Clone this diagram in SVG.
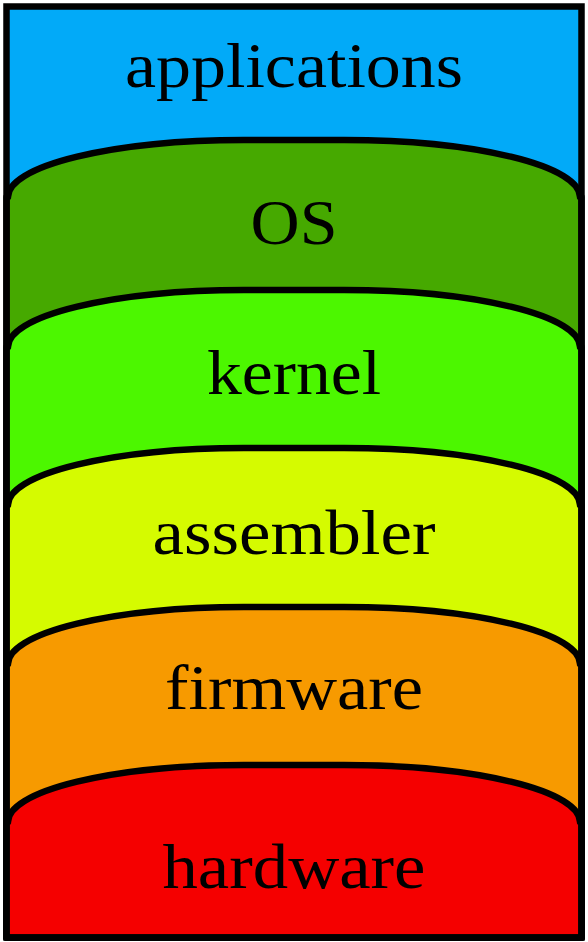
<svg xmlns="http://www.w3.org/2000/svg" width="588" height="942" viewBox="0 0 588 942">
<style>
.layer{stroke:#000;stroke-width:6.5;stroke-linejoin:round}
.lbl{font-family:"Liberation Serif","Times New Roman",serif;font-size:63px;fill:#000;text-anchor:middle}
</style>
<rect x="0" y="0" width="588" height="942" fill="#ffffff"/>
<g id="applications">
<rect x="6.5" y="6.5" width="575" height="931" fill="#02aaf8"/>
<text class="lbl" x="294" y="87" textLength="338" lengthAdjust="spacingAndGlyphs">applications</text>
</g>
<g id="os">
<path class="layer" fill="#46a900" d="M6.5,937.5 L6.5,197 L8,197 A236 57 0 0 1 244,140 L344,140 A236 57 0 0 1 580,197 L581.5,197 L581.5,937.5 Z"/>
<text class="lbl" x="294" y="244" textLength="87" lengthAdjust="spacingAndGlyphs">OS</text>
</g>
<g id="kernel">
<path class="layer" fill="#4cf700" d="M6.5,937.5 L6.5,347 L8,347 A236 57 0 0 1 244,290 L344,290 A236 57 0 0 1 580,347 L581.5,347 L581.5,937.5 Z"/>
<text class="lbl" x="294" y="394" textLength="174" lengthAdjust="spacingAndGlyphs">kernel</text>
</g>
<g id="assembler">
<path class="layer" fill="#d5fb00" d="M6.5,937.5 L6.5,505 L8,505 A236 57 0 0 1 244,448 L344,448 A236 57 0 0 1 580,505 L581.5,505 L581.5,937.5 Z"/>
<text class="lbl" x="294" y="554" textLength="283" lengthAdjust="spacingAndGlyphs">assembler</text>
</g>
<g id="firmware">
<path class="layer" fill="#f79a00" d="M6.5,937.5 L6.5,664 L8,664 A236 57 0 0 1 244,607 L344,607 A236 57 0 0 1 580,664 L581.5,664 L581.5,937.5 Z"/>
<text class="lbl" x="294" y="709" textLength="258" lengthAdjust="spacingAndGlyphs">firmware</text>
</g>
<g id="hardware">
<path class="layer" fill="#f50000" d="M6.5,937.5 L6.5,822 L8,822 A236 57 0 0 1 244,765 L344,765 A236 57 0 0 1 580,822 L581.5,822 L581.5,937.5 Z"/>
<text class="lbl" x="294" y="888" textLength="263" lengthAdjust="spacingAndGlyphs">hardware</text>
</g>
<g id="connectors"></g>
<rect id="frame" x="6.5" y="6.5" width="575" height="931" fill="none" stroke="#000" stroke-width="6.5"/>
</svg>
